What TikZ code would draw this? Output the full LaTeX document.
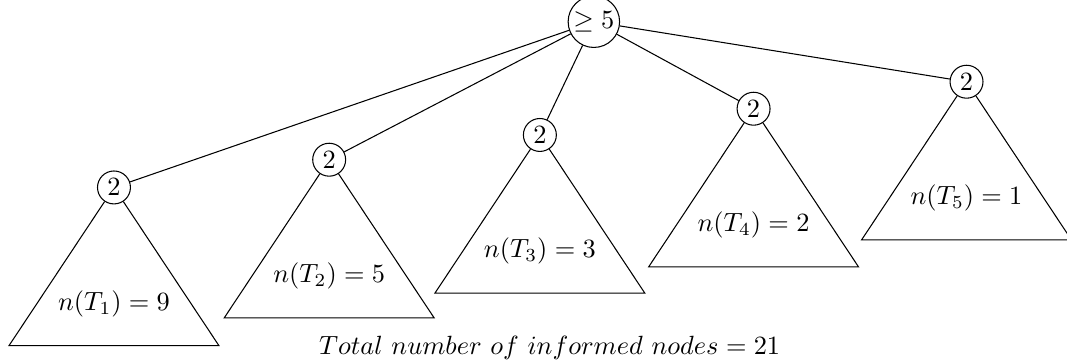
\documentclass[tikz,border=0pt]{standalone}
\usepackage{amsmath}
\usetikzlibrary{positioning}
\definecolor{treeInk}{HTML}{000000}
\tikzset{
  every picture/.style={text=treeInk},
  tree vertex/.style={draw=treeInk, circle, line width=0.4pt, inner sep=0pt,
    minimum size=12.5pt},
  tree edge/.style={draw=treeInk, line width=0.4pt},
  subtree/.style={draw=treeInk, line width=0.4pt, line join=miter}
}

\begin{document}
\begin{tikzpicture}[x=1cm,y=1cm]
  \useasboundingbox (0,0) rectangle (14.23,4.85);
  \node[tree vertex, inner sep=0.8pt] (root) at (7.92,4.56) {$\geq 5$};
  \node[tree vertex] (c1) at (1.52,2.35) {$2$};
  \node[tree vertex] (c2) at (4.39,2.72) {$2$};
  \node[tree vertex] (c3) at (7.20,3.05) {$2$};
  \node[tree vertex] (c4) at (10.05,3.40) {$2$};
  \node[tree vertex] (c5) at (12.89,3.76) {$2$};
  \draw[tree edge] (root) -- (c1);
  \draw[tree edge] (root) -- (c2);
  \draw[tree edge] (root) -- (c3);
  \draw[tree edge] (root) -- (c4);
  \draw[tree edge] (root) -- (c5);
  % subtrees hanging under the children
  \coordinate (t1l) at (0.12,0.24); \coordinate (t1r) at (2.92,0.24);
  \coordinate (t2l) at (2.99,0.61); \coordinate (t2r) at (5.79,0.61);
  \coordinate (t3l) at (5.80,0.94); \coordinate (t3r) at (8.60,0.94);
  \coordinate (t4l) at (8.65,1.29); \coordinate (t4r) at (11.45,1.29);
  \coordinate (t5l) at (11.49,1.65); \coordinate (t5r) at (14.29,1.65);
  \draw[subtree] (c1) -- (t1l) -- (t1r) -- (c1);
  \draw[subtree] (c2) -- (t2l) -- (t2r) -- (c2);
  \draw[subtree] (c3) -- (t3l) -- (t3r) -- (c3);
  \draw[subtree] (c4) -- (t4l) -- (t4r) -- (c4);
  \draw[subtree] (c5) -- (t5l) -- (t5r) -- (c5);
  \node (n1) at (1.52,0.80) {$n(T_1) = 9$};
  \node (n2) at (4.39,1.17) {$n(T_2) = 5$};
  \node (n3) at (7.20,1.50) {$n(T_3) = 3$};
  \node (n4) at (10.05,1.85) {$n(T_4) = 2$};
  \node (n5) at (12.89,2.21) {$n(T_5) = 1$};
  \node (total) at (7.33,0.21) {$Total\ number\ of\ informed\ nodes = 21$};
\end{tikzpicture}
\end{document}
